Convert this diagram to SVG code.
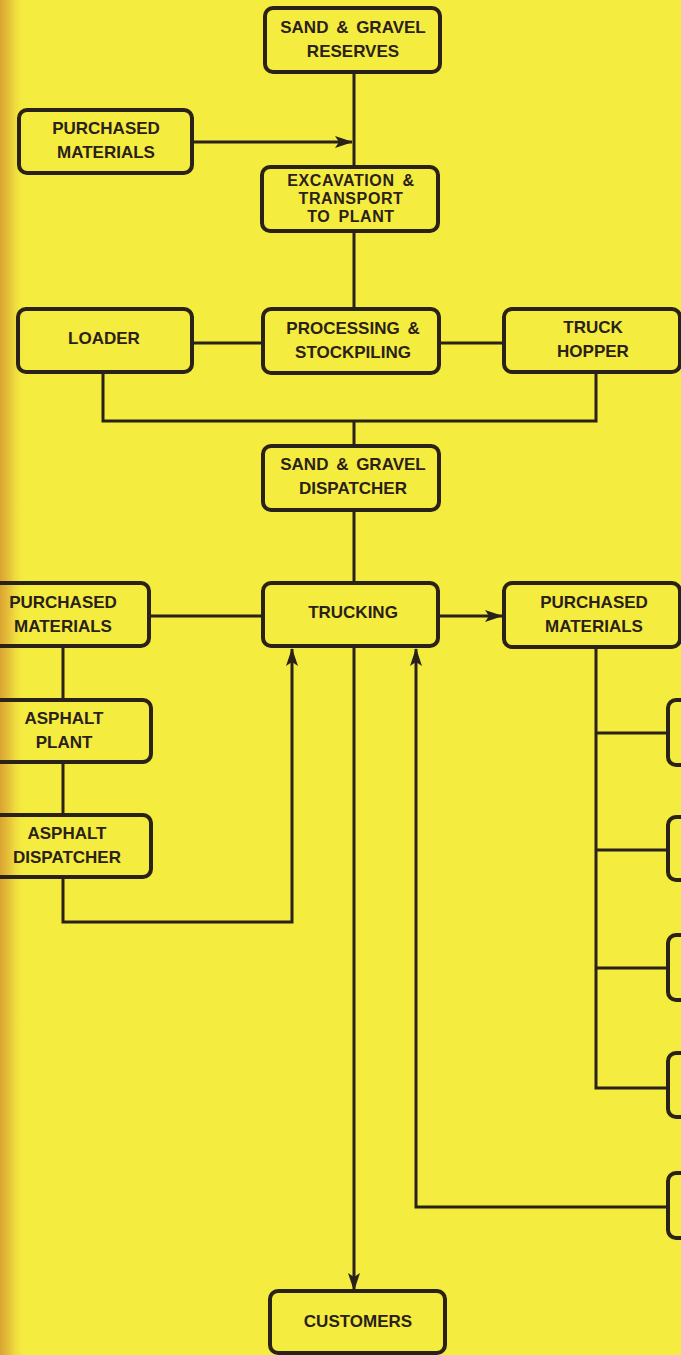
<svg xmlns="http://www.w3.org/2000/svg" width="681" height="1355" viewBox="0 0 681 1355">
<defs>
<linearGradient id="edge" x1="0" y1="0" x2="1" y2="0">
<stop offset="0" stop-color="#d9a431"/>
<stop offset="0.35" stop-color="#e6c23a"/>
<stop offset="1" stop-color="#f5ec40" stop-opacity="0"/>
</linearGradient>
<marker id="ah" viewBox="0 0 18 12" refX="17" refY="6" markerWidth="18" markerHeight="12" markerUnits="userSpaceOnUse" orient="auto">
<path d="M0,0 L18,6 L0,12 L4,6 Z" fill="#2a2118"/>
</marker>
</defs>
<style>
.bx{fill:none;stroke:#2a2118;stroke-width:4;}
.ln{fill:none;stroke:#2a2118;stroke-width:3;}
text{font-family:"Liberation Sans",Arial,sans-serif;font-weight:bold;font-size:17px;word-spacing:3px;fill:#2a2118;text-anchor:middle;}
text.s{font-size:16px;letter-spacing:0.6px;}
</style>
<rect width="681" height="1355" fill="#f5ec40"/>
<rect width="26" height="1355" fill="url(#edge)"/>
<g id="connectors">
<path class="ln" d="M354,72 V167"/>
<path class="ln" d="M193,142 H352" marker-end="url(#ah)"/>
<path class="ln" d="M354,231 V309"/>
<path class="ln" d="M192,343 H263"/>
<path class="ln" d="M439,343 H504"/>
<path class="ln" d="M103,372 V421 H596 V372"/>
<path class="ln" d="M354,421 V446"/>
<path class="ln" d="M354,510 V583"/>
<path class="ln" d="M149,616 H263"/>
<path class="ln" d="M438,616 H502" marker-end="url(#ah)"/>
<path class="ln" d="M63,646 V700"/>
<path class="ln" d="M63,762 V815"/>
<path class="ln" d="M63,877 V922 H292 V649" marker-end="url(#ah)"/>
<path class="ln" d="M354,646 V1290" marker-end="url(#ah)"/>
<path class="ln" d="M668,1207 H416 V649" marker-end="url(#ah)"/>
<path class="ln" d="M596,647 V1088 H668"/>
<path class="ln" d="M596,733 H668"/>
<path class="ln" d="M596,850 H668"/>
<path class="ln" d="M596,968 H668"/>
</g>
<g id="reserves"><rect class="bx" x="265" y="8" width="175" height="64" rx="8"/><text x="353" y="33">SAND &amp; GRAVEL</text><text x="353" y="57">RESERVES</text></g>
<g id="purchased1"><rect class="bx" x="19" y="110" width="173" height="63" rx="8"/><text x="106" y="134">PURCHASED</text><text x="106" y="158">MATERIALS</text></g>
<g id="excavation"><rect class="bx" x="262" y="167" width="176" height="64" rx="8"/><text class="s" x="351" y="186">EXCAVATION &amp;</text><text class="s" x="351" y="204">TRANSPORT</text><text class="s" x="351" y="222">TO PLANT</text></g>
<g id="loader"><rect class="bx" x="18" y="309" width="174" height="63" rx="8"/><text x="104" y="344">LOADER</text></g>
<g id="processing"><rect class="bx" x="263" y="309" width="176" height="64" rx="8"/><text x="353" y="334">PROCESSING &amp;</text><text x="353" y="358">STOCKPILING</text></g>
<g id="hopper"><rect class="bx" x="504" y="309" width="176" height="63" rx="8"/><text x="593" y="333">TRUCK</text><text x="593" y="357">HOPPER</text></g>
<g id="sgdispatcher"><rect class="bx" x="263" y="446" width="176" height="64" rx="8"/><text x="353" y="470">SAND &amp; GRAVEL</text><text x="353" y="494">DISPATCHER</text></g>
<g id="trucking"><rect class="bx" x="263" y="583" width="175" height="63" rx="8"/><text x="353" y="618">TRUCKING</text></g>
<g id="purchased2"><rect class="bx" x="-20" y="583" width="169" height="63" rx="8"/><text x="63" y="608">PURCHASED</text><text x="63" y="632">MATERIALS</text></g>
<g id="purchased3"><rect class="bx" x="504" y="583" width="176" height="64" rx="8"/><text x="594" y="608">PURCHASED</text><text x="594" y="632">MATERIALS</text></g>
<g id="asphaltplant"><rect class="bx" x="-20" y="700" width="171" height="62" rx="8"/><text x="64" y="724">ASPHALT</text><text x="64" y="748">PLANT</text></g>
<g id="asphaltdispatcher"><rect class="bx" x="-20" y="815" width="171" height="62" rx="8"/><text x="67" y="839">ASPHALT</text><text x="67" y="863">DISPATCHER</text></g>
<g id="r1"><rect class="bx" x="668" y="700" width="40" height="65" rx="8"/></g>
<g id="r2"><rect class="bx" x="668" y="817" width="40" height="63" rx="8"/></g>
<g id="r3"><rect class="bx" x="668" y="935" width="40" height="65" rx="8"/></g>
<g id="r4"><rect class="bx" x="668" y="1053" width="40" height="64" rx="8"/></g>
<g id="r5"><rect class="bx" x="668" y="1173" width="40" height="65" rx="8"/></g>
<g id="customers"><rect class="bx" x="270" y="1291" width="175" height="62" rx="8"/><text x="358" y="1327">CUSTOMERS</text></g>
</svg>
